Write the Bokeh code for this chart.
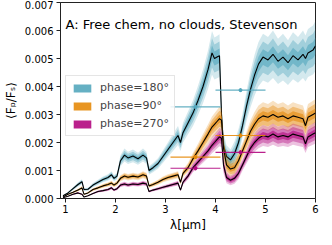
import numpy as np
from bokeh.plotting import figure
from bokeh.models import (ColumnDataSource, Label, Legend, LegendItem, FixedTicker,
                          NumeralTickFormatter, Range1d)
from bokeh.embed import file_html
from bokeh.resources import INLINE

# ---------------- data ----------------
wavelength = [0.95, 1.05, 1.15, 1.25, 1.33, 1.37, 1.45, 1.55, 1.65, 1.75, 1.85, 1.92, 1.97,
              2.03, 2.10, 2.18, 2.25, 2.35, 2.45, 2.55, 2.62, 2.67, 2.75, 2.85, 2.95, 3.05,
              3.15, 3.25, 3.30, 3.35, 3.45, 3.55, 3.65, 3.75, 3.85, 3.93, 3.98, 4.03, 4.08,
              4.12, 4.16, 4.22, 4.30, 4.38, 4.46, 4.54, 4.62, 4.70, 4.78, 4.86, 4.95, 5.05,
              5.15, 5.25, 5.35, 5.45, 5.55, 5.65, 5.75, 5.80, 5.85, 5.95, 6.00]

phase180 = [0.10, 0.20, 0.35, 0.50, 0.60, 0.32, 0.33, 0.48, 0.58, 0.68, 0.75, 0.85, 0.72,
            0.80, 1.35, 1.55, 1.45, 1.52, 1.42, 1.55, 1.45, 1.00, 1.10, 1.25, 1.50, 1.75,
            2.00, 2.25, 2.00, 2.35, 2.70, 3.05, 3.50, 4.00, 4.60, 5.20, 5.00, 5.05, 5.10,
            3.00, 1.90, 1.50, 1.38, 1.60, 2.00, 2.60, 3.30, 3.90, 4.40, 4.80, 5.05, 4.95,
            5.15, 4.90, 5.05, 4.85, 5.10, 4.95, 5.15, 5.00, 5.20, 5.30, 5.45]

phase90 = [0.05, 0.15, 0.22, 0.30, 0.38, 0.15, 0.20, 0.32, 0.38, 0.45, 0.50, 0.55, 0.48,
           0.55, 0.72, 0.80, 0.76, 0.80, 0.77, 0.85, 0.80, 0.45, 0.50, 0.58, 0.68, 0.75,
           0.80, 0.85, 0.58, 0.90, 1.10, 1.42, 1.70, 2.00, 2.30, 2.55, 2.65, 2.75, 2.85,
           2.80, 1.80, 1.20, 1.05, 1.10, 1.35, 1.70, 2.05, 2.40, 2.65, 2.85, 2.95, 2.90,
           3.00, 2.90, 2.95, 2.85, 2.95, 2.90, 2.85, 2.60, 2.90, 3.00, 3.05]

phase270 = [0.03, 0.08, 0.15, 0.20, 0.15, 0.05, 0.10, 0.18, 0.25, 0.28, 0.32, 0.38, 0.30,
            0.35, 0.48, 0.52, 0.48, 0.52, 0.50, 0.55, 0.52, 0.25, 0.30, 0.35, 0.40, 0.45,
            0.50, 0.55, 0.30, 0.58, 0.80, 1.10, 1.30, 1.50, 1.70, 1.90, 2.00, 2.10, 2.20,
            2.15, 1.20, 0.75, 0.65, 0.72, 0.90, 1.20, 1.50, 1.80, 2.00, 2.15, 2.25, 2.20,
            2.30, 2.20, 2.25, 2.20, 2.30, 2.25, 2.20, 1.95, 2.20, 2.30, 2.35]

# relative 1-sigma spread of the retrieved spectra
spread = [0.05] * 40 + [0.08, 0.09, 0.09, 0.09, 0.08] + [0.055] * 18

# photometric points (Spitzer 3.6 / 4.5 um)
phot_wl = [3.6, 4.5]
phot_halfwidth = [0.5, 0.5]
phot180 = [0.00327, 0.00387]
phot90 = [0.00148, 0.00225]
phot270 = [0.00108, 0.00165]
phot_err = [0.00007, 0.00007]

labels = ["phase=180°", "phase=90°", "phase=270°"]
colors = ["#54a7bd", "#e5890a", "#b3087f"]
title = "A: Free chem, no clouds, Stevenson"

y_ticks = [0.0, 0.001, 0.002, 0.003, 0.004, 0.005, 0.006, 0.007]
x_ticks = [1, 2, 3, 4, 5, 6]

# ---------------- figure ----------------
FONT = "DejaVu Sans"
p = figure(width=320, height=234, output_backend="svg", toolbar_location=None,
           x_range=Range1d(0.9, 6.0), y_range=Range1d(0.0, 0.007),
           min_border_left=49, min_border_right=5, min_border_top=2, min_border_bottom=33)
p.xgrid.visible = False
p.ygrid.visible = False
p.outline_line_color = "#222222"
p.outline_line_width = 1
p.background_fill_color = "white"
p.border_fill_color = "white"

wl = np.array(wavelength)
sp = np.array(spread)
items = []
for med_list, col, lab in zip([phase180, phase90, phase270], colors, labels):
    med = np.array(med_list) * 1e-3
    src = ColumnDataSource(dict(x=wl, med=med,
                                lo3=med * (1 - 3 * sp), hi3=med * (1 + 3 * sp),
                                lo2=med * (1 - 2 * sp), hi2=med * (1 + 2 * sp),
                                lo1=med * (1 - 1 * sp), hi1=med * (1 + 1 * sp)))
    p.varea(x="x", y1="lo3", y2="hi3", source=src, fill_color=col, fill_alpha=0.25)
    p.varea(x="x", y1="lo2", y2="hi2", source=src, fill_color=col, fill_alpha=0.4)
    p.varea(x="x", y1="lo1", y2="hi1", source=src, fill_color=col, fill_alpha=0.6)
    p.line(x="x", y="med", source=src, line_color="black", line_width=1.1)
    # full-colour proxy for the legend patch (placed outside the visible range)
    proxy = p.varea(x=[-5.0, -4.0], y1=[0.0, 0.0], y2=[0.001, 0.001],
                    fill_color=col, fill_alpha=0.9)
    items.append(LegendItem(label=lab, renderers=[proxy]))

for vals, col in zip([phot180, phot90, phot270], colors):
    x = np.array(phot_wl)
    hw = np.array(phot_halfwidth)
    v = np.array(vals)
    e = np.array(phot_err)
    p.segment(x0=x - hw, x1=x + hw, y0=v, y1=v, line_color=col, line_width=1.2, line_alpha=0.9)
    p.segment(x0=x, x1=x, y0=v - e, y1=v + e, line_color=col, line_width=1.5)
    p.scatter(x=x, y=v, size=3, marker="circle", fill_color=col, line_color=col)

leg = Legend(items=items, location=(5, 62), label_text_font=FONT,
             label_text_font_size="11px", glyph_width=22, glyph_height=10,
             label_height=11, spacing=5, padding=5, margin=0, label_standoff=7,
             border_line_color="#cccccc", border_line_width=1,
             background_fill_alpha=0.85)
p.add_layout(leg)

p.add_layout(Label(x=1.0, y=0.0062, text=title, text_font=FONT, text_font_size="13px",
                   text_baseline="middle", text_color="black"))

for ax in (p.xaxis[0], p.yaxis[0]):
    ax.major_label_text_font = FONT
    ax.major_label_text_font_size = "10px"
    ax.major_label_text_color = "black"
    ax.axis_label_text_font = FONT
    ax.axis_label_text_font_style = "normal"
    ax.axis_label_text_color = "black"
    ax.major_tick_in = 0
    ax.major_tick_out = 4
    ax.minor_tick_in = 0
    ax.minor_tick_out = 0
    ax.axis_line_color = "#222222"
    ax.major_tick_line_color = "#222222"

p.yaxis.ticker = FixedTicker(ticks=y_ticks)
p.yaxis.formatter = NumeralTickFormatter(format="0.000")
p.xaxis.ticker = FixedTicker(ticks=x_ticks)
p.yaxis.axis_label = "⟨Fₚ/Fₛ⟩"
p.yaxis.axis_label_text_font_size = "12px"
p.xaxis.axis_label = "λ[μm]"
p.xaxis.axis_label_text_font_size = "12px"
p.yaxis.major_label_standoff = 3
p.xaxis.major_label_standoff = 2
p.yaxis.axis_label_standoff = 4
p.xaxis.axis_label_standoff = 2

open("out.html", "w").write(file_html(p, INLINE))
